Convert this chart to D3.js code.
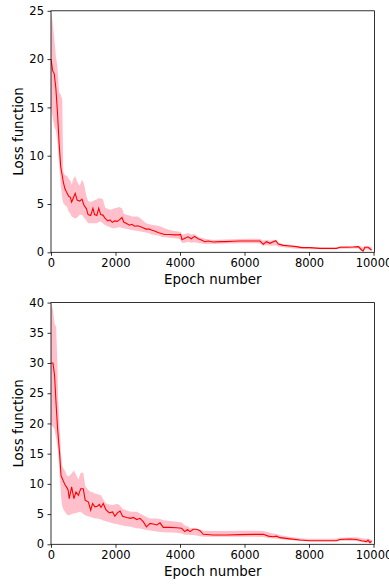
<!DOCTYPE html>
<html>
<head>
<meta charset="utf-8">
<script src="https://cdn.jsdelivr.net/npm/d3@7"></script>
<style>
  html, body { margin: 0; padding: 0; background: #fff; }
  svg { display: block; font-family: "DejaVu Sans", sans-serif; }
</style>
</head>
<body>
<svg id="chart" width="389" height="585"></svg>
<script>
// values
const xTicks = [0, 2000, 4000, 6000, 8000, 10000];
const topYTicks = [0, 5, 10, 15, 20, 25];
const botYTicks = [0, 5, 10, 15, 20, 25, 30, 35, 40];

const topEpochs = [0, 50, 100, 150, 200, 250, 300, 350, 380, 430, 500, 550, 600, 640, 690, 750, 810, 890, 960, 1020,
  1100, 1150, 1230, 1300, 1350, 1420, 1480, 1540, 1610, 1680, 1760, 1830, 1900, 1970, 2050, 2120, 2200, 2260, 2330, 2430,
  2510, 2590, 2690, 2780, 2850, 2950, 3060, 3110, 3210, 3320, 3420, 3520, 3680, 3830, 3950, 4020, 4060, 4150, 4250, 4350,
  4450, 4560, 4660, 4770, 4870, 5030, 5240, 5440, 5650, 5860, 6060, 6270, 6480, 6580, 6680, 6790, 6890, 6970, 7050, 7200,
  7410, 7610, 7770, 8030, 8340, 8650, 8850, 8960, 9160, 9370, 9530, 9630, 9680, 9730, 9830, 9940];
const topMean = [20.0, 18.8, 18.5, 17.0, 14.5, 11.4, 8.9, 7.9, 7.3, 6.6, 6.1, 5.8, 5.7, 5.2, 5.6, 6.1, 5.4, 5.3, 5.5, 4.9,
  4.5, 3.9, 3.8, 4.55, 3.9, 3.8, 4.55, 3.9, 3.85, 3.5, 3.25, 3.35, 3.1, 3.25, 3.2, 3.35, 3.6, 3.1, 3.0, 2.8,
  2.9, 2.7, 2.75, 2.65, 2.55, 2.4, 2.4, 2.3, 2.2, 2.05, 1.95, 1.85, 1.85, 1.8, 1.8, 1.85, 1.3, 1.45, 1.6, 1.4,
  1.65, 1.4, 1.28, 1.1, 1.17, 1.07, 1.1, 1.1, 1.14, 1.17, 1.17, 1.17, 1.17, 0.83, 1.1, 0.93, 1.1, 1.2, 0.86, 0.72,
  0.66, 0.59, 0.48, 0.48, 0.41, 0.41, 0.41, 0.52, 0.52, 0.55, 0.59, 0.24, 0.14, 0.52, 0.52, 0.24];
const topLower = [15.0, 14.0, 13.0, 12.6, 11.4, 9.3, 7.0, 5.6, 5.1, 4.9, 4.7, 4.2, 4.0, 3.7, 3.6, 3.5, 3.6, 3.9, 3.9, 3.6,
  3.3, 3.0, 3.0, 3.0, 3.0, 3.0, 3.1, 3.2, 3.0, 2.8, 2.7, 2.6, 2.5, 2.5, 2.55, 2.6, 2.55, 2.5, 2.45, 2.35,
  2.3, 2.25, 2.2, 2.15, 2.1, 2.05, 1.95, 1.85, 1.8, 1.75, 1.6, 1.55, 1.5, 1.45, 1.4, 1.3, 0.95, 1.0, 1.1, 1.0,
  1.05, 0.95, 0.9, 0.85, 0.85, 0.86, 0.88, 0.9, 0.92, 0.93, 0.93, 0.93, 0.92, 0.65, 0.75, 0.68, 0.7, 0.7, 0.6, 0.52,
  0.45, 0.38, 0.33, 0.31, 0.31, 0.31, 0.31, 0.38, 0.38, 0.4, 0.42, 0.1, 0.05, 0.3, 0.3, 0.1];
const topUpper = [25.0, 23.8, 22.2, 20.3, 19.2, 16.6, 16.3, 15.8, 8.3, 8.0, 7.9, 7.6, 7.4, 7.0, 7.6, 7.9, 7.3, 6.9, 7.5, 7.1,
  5.8, 5.3, 5.2, 5.3, 5.4, 5.5, 5.6, 5.6, 5.5, 4.6, 4.5, 4.4, 4.45, 4.55, 4.6, 4.7, 4.55, 4.0, 3.9, 3.8,
  3.7, 3.7, 3.7, 3.5, 3.3, 3.0, 2.9, 2.85, 2.8, 2.75, 2.65, 2.5, 2.3, 2.2, 2.15, 2.1, 1.8, 1.9, 2.0, 1.85,
  1.9, 1.6, 1.5, 1.4, 1.35, 1.28, 1.3, 1.32, 1.35, 1.38, 1.4, 1.4, 1.41, 1.2, 1.3, 1.2, 1.28, 1.3, 1.0, 0.86,
  0.78, 0.66, 0.58, 0.52, 0.5, 0.48, 0.48, 0.62, 0.65, 0.65, 0.68, 0.59, 0.5, 0.65, 0.62, 0.55];

const botEpochs = [0, 60, 110, 160, 200, 220, 270, 310, 340, 380, 430, 480, 530, 565, 640, 710, 775, 850, 920, 1000,
  1060, 1160, 1230, 1290, 1360, 1440, 1500, 1550, 1620, 1700, 1810, 1910, 1980, 2060, 2140, 2220, 2350, 2470, 2550, 2660,
  2760, 2860, 2960, 3070, 3170, 3280, 3380, 3480, 3690, 3890, 4050, 4150, 4230, 4310, 4410, 4510, 4620, 4720, 5030, 5440,
  5860, 6270, 6580, 6740, 6890, 6990, 7100, 7410, 7720, 8030, 8540, 8850, 8960, 9270, 9470, 9630, 9780, 9830, 9890, 9940];
const botMean = [30.0, 30.0, 28.0, 23.0, 19.5, 18.1, 14.8, 11.4, 11.0, 10.5, 9.9, 9.5, 9.0, 7.55, 9.5, 7.55, 8.65, 8.1, 9.2, 9.2,
  7.3, 7.0, 5.65, 6.75, 6.2, 6.3, 6.6, 6.1, 6.75, 5.75, 5.2, 5.35, 4.65, 5.2, 5.5, 4.65, 4.45, 4.3, 4.45, 4.1,
  4.3, 3.75, 2.9, 3.45, 3.35, 3.2, 3.55, 2.8, 2.8, 2.75, 2.65, 2.1, 2.45, 2.1, 2.5, 2.5, 2.25, 1.65, 1.55, 1.55,
  1.6, 1.65, 1.65, 1.35, 1.25, 1.35, 1.1, 0.9, 0.7, 0.6, 0.6, 0.6, 0.8, 0.88, 0.8, 0.6, 0.45, 0.7, 0.27, 0.55];
const botLower = [19.7, 19.5, 19.0, 17.5, 16.0, 15.5, 11.4, 8.1, 6.5, 5.8, 5.4, 5.0, 4.8, 4.8, 5.0, 5.1, 5.2, 5.3, 5.4, 5.0,
  4.8, 4.6, 4.5, 4.4, 4.3, 4.25, 4.2, 4.1, 3.95, 3.8, 3.65, 3.5, 3.4, 3.3, 3.2, 3.1, 3.0, 2.9, 2.8, 2.65,
  2.6, 2.5, 2.35, 2.3, 2.2, 2.1, 2.05, 2.0, 1.95, 1.9, 1.8, 1.6, 1.6, 1.55, 1.55, 1.45, 1.35, 1.27, 1.27, 1.27,
  1.27, 1.27, 1.2, 1.05, 0.95, 0.9, 0.82, 0.7, 0.55, 0.5, 0.5, 0.52, 0.6, 0.6, 0.55, 0.4, 0.25, 0.3, 0.12, 0.15];
const botUpper = [40.0, 38.8, 36.5, 36.0, 29.5, 24.2, 19.2, 15.0, 13.1, 12.6, 12.2, 11.5, 11.2, 11.3, 11.7, 12.2, 11.5, 10.7, 11.8, 11.9,
  9.6, 9.0, 8.7, 8.6, 8.4, 8.3, 8.2, 8.1, 7.4, 6.8, 6.6, 6.5, 6.6, 6.7, 6.4, 5.9, 5.6, 5.4, 5.4, 5.4,
  5.1, 4.8, 4.5, 4.25, 4.25, 4.25, 4.2, 4.0, 3.85, 3.75, 3.6, 3.1, 3.0, 2.7, 2.65, 2.55, 2.45, 2.25, 2.2, 2.2,
  2.25, 2.25, 2.2, 2.0, 1.8, 1.7, 1.5, 1.25, 1.0, 0.92, 0.9, 0.95, 1.1, 1.12, 1.16, 1.0, 0.9, 0.95, 0.83, 0.8];

const svg = d3.select('#chart');
const left = 51, right = 374.5;

function drawPanel(top, bottom, yMax, yTicks, epochs, mean, lower, upper, id) {
  const x = d3.scaleLinear().domain([0, 10030]).range([left, right]);
  const y = d3.scaleLinear().domain([0, yMax]).range([bottom, top]);

  const rows = epochs.map((e, i) => ({ e, m: mean[i], lo: lower[i], hi: upper[i] }));

  svg.append('clipPath').attr('id', id)
    .append('rect')
    .attr('x', left).attr('y', top)
    .attr('width', right - left).attr('height', bottom - top);

  const g = svg.append('g').attr('clip-path', `url(#${id})`);

  // bande min/max
  g.append('path')
    .datum(rows)
    .attr('fill', 'pink')
    .attr('d', d3.area()
      .x(d => x(d.e))
      .y0(d => y(d.lo))
      .y1(d => y(d.hi)));

  g.append('path')
    .datum(rows)
    .attr('fill', 'none')
    .attr('stroke', 'red')
    .attr('stroke-width', 1.1)
    .attr('d', d3.line()
      .x(d => x(d.e))
      .y(d => y(d.m)));

  // axes
  const xAxis = svg.append('g')
    .attr('transform', `translate(0,${bottom})`)
    .call(d3.axisBottom(x).tickValues(xTicks).tickFormat(d3.format('d'))
      .tickSizeInner(3.5).tickSizeOuter(0).tickPadding(3.5));

  const yAxis = svg.append('g')
    .attr('transform', `translate(${left},0)`)
    .call(d3.axisLeft(y).tickValues(yTicks).tickFormat(d3.format('d'))
      .tickSizeInner(3.5).tickSizeOuter(0).tickPadding(3.5));

  [xAxis, yAxis].forEach(a => {
    a.select('.domain').remove();
    a.selectAll('line').attr('stroke', '#000').attr('stroke-width', 0.8);
    a.selectAll('text')
      .attr('fill', '#000')
      .style('font-size', '11.5px')
      .style('font-family', '"DejaVu Sans", sans-serif');
  });

  // cadre
  svg.append('rect')
    .attr('x', left).attr('y', top)
    .attr('width', right - left).attr('height', bottom - top)
    .attr('fill', 'none')
    .attr('stroke', '#000')
    .attr('stroke-width', 0.8);

  svg.append('text')
    .attr('x', (left + right) / 2)
    .attr('y', bottom + 31.3)
    .attr('text-anchor', 'middle')
    .style('font-size', '13.4px')
    .text('Epoch number');

  svg.append('text')
    .attr('transform', `translate(23.3,${(top + bottom) / 2}) rotate(-90)`)
    .attr('text-anchor', 'middle')
    .style('font-size', '13.4px')
    .text('Loss function');
}

drawPanel(10.8, 252.3, 25, topYTicks, topEpochs, topMean, topLower, topUpper, 'clip-top');
drawPanel(302.6, 544.3, 40, botYTicks, botEpochs, botMean, botLower, botUpper, 'clip-bot');
</script>
</body>
</html>
